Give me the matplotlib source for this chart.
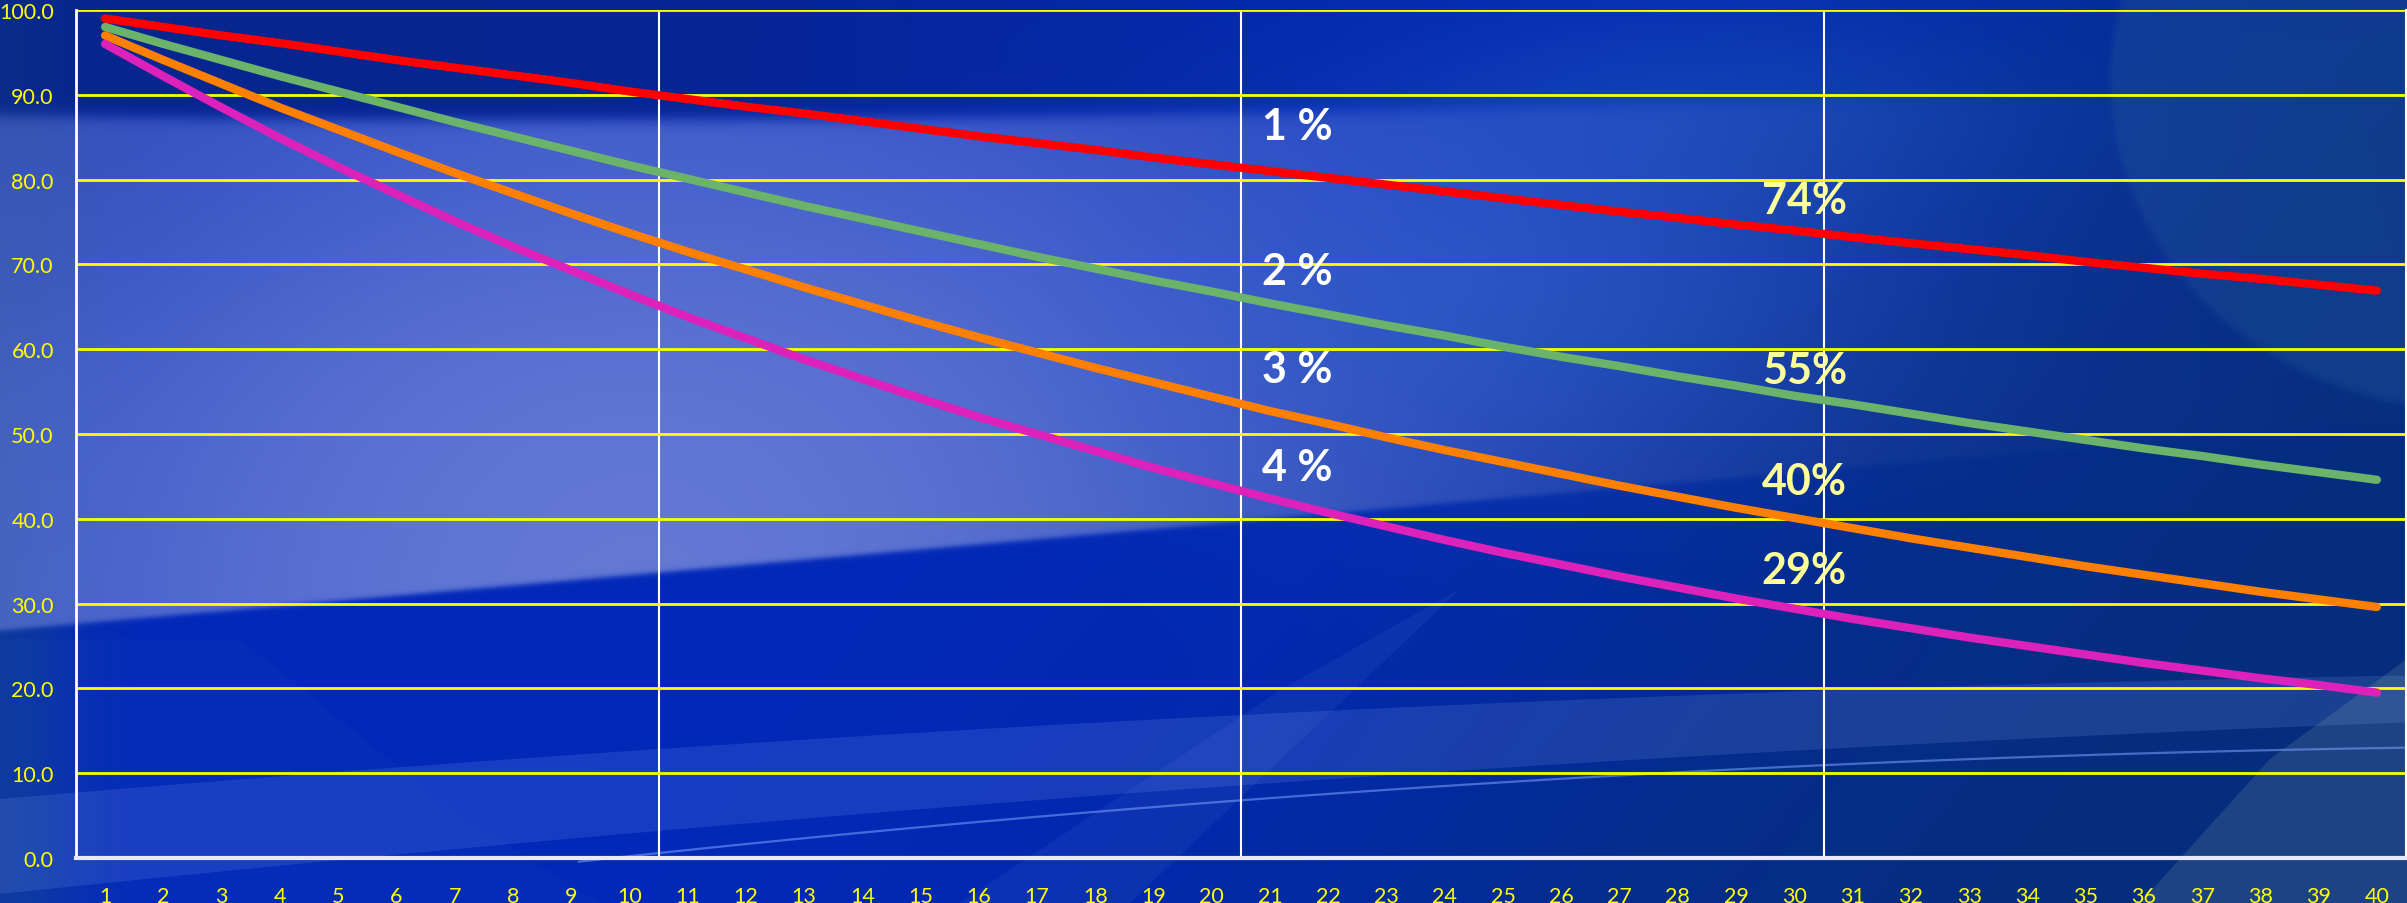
import numpy as np
import matplotlib
matplotlib.use("Agg")
import matplotlib.pyplot as plt
from matplotlib.patches import Polygon

# years 1..40 and the share of value left after yearly losses of 1-4 %
years = list(range(1, 41))
loss_1 = [99.0, 98.0, 97.0, 96.1, 95.1, 94.1, 93.2, 92.3, 91.4, 90.4,
          89.5, 88.6, 87.8, 86.9, 86.0, 85.1, 84.3, 83.5, 82.6, 81.8,
          81.0, 80.2, 79.4, 78.6, 77.8, 77.0, 76.2, 75.5, 74.7, 74.0,
          73.2, 72.5, 71.8, 71.1, 70.3, 69.6, 68.9, 68.3, 67.6, 66.9]
loss_2 = [98.0, 96.0, 94.1, 92.2, 90.4, 88.6, 86.8, 85.1, 83.4, 81.7,
          80.1, 78.5, 76.9, 75.4, 73.9, 72.4, 70.9, 69.5, 68.1, 66.8,
          65.4, 64.1, 62.8, 61.6, 60.3, 59.1, 58.0, 56.8, 55.7, 54.5,
          53.5, 52.4, 51.3, 50.3, 49.3, 48.3, 47.4, 46.4, 45.5, 44.6]
loss_3 = [97.0, 94.1, 91.3, 88.5, 85.9, 83.3, 80.8, 78.4, 76.0, 73.7,
          71.5, 69.4, 67.3, 65.3, 63.3, 61.4, 59.6, 57.8, 56.1, 54.4,
          52.7, 51.2, 49.6, 48.1, 46.7, 45.3, 43.9, 42.6, 41.3, 40.1,
          38.9, 37.7, 36.6, 35.5, 34.4, 33.4, 32.4, 31.4, 30.5, 29.6]
loss_4 = [96.0, 92.2, 88.5, 84.9, 81.5, 78.3, 75.1, 72.1, 69.3, 66.5,
          63.8, 61.3, 58.8, 56.5, 54.2, 52.0, 50.0, 48.0, 46.0, 44.2,
          42.4, 40.7, 39.1, 37.5, 36.0, 34.6, 33.2, 31.9, 30.6, 29.4,
          28.2, 27.1, 26.0, 25.0, 24.0, 23.0, 22.1, 21.2, 20.4, 19.5]
series = [loss_1, loss_2, loss_3, loss_4]
colors = ["#ff0000", "#6bb36b", "#ff8000", "#dd22bb"]
rate_labels = ["1 %", "2 %", "3 %", "4 %"]
left_labels = ["74%", "55%", "40%", "29%"]
y_ticks = [0, 10, 20, 30, 40, 50, 60, 70, 80, 90, 100]

W, H = 2407, 904
fig = plt.figure(figsize=(W / 100, H / 100), dpi=100)

# ---- background: blue gradient with soft light swooshes ----
yy, xx = np.mgrid[0:H, 0:W].astype(float)


def sig(d, w):
    return 1.0 / (1.0 + np.exp(-np.clip(d / w, -50, 50)))


def mix(img, col, a):
    col = np.array(col, float) / 255.0
    return img * (1 - a[..., None]) + col * a[..., None]


img = np.zeros((H, W, 3))
img[:] = np.array([2, 40, 185]) / 255.0
img = mix(img, (25, 85, 205), 0.55 * np.exp(-((xx - 1750) / 350.0) ** 2) * np.exp(-((yy - 110) / 110.0) ** 2))
img = mix(img, (15, 60, 150), 0.8 * np.exp(-(xx / 80.0) ** 2))

# light lavender wedge on the left, navy strip above it
y_bot = 631 - 0.088 * xx
y_top = 118 + 0.012 * xx - 0.000012 * xx ** 2
img = mix(img, (8, 36, 128), 0.75 * sig(y_top - yy, 5) * np.exp(-((xx - 300) / 900.0) ** 2))
m = sig(y_bot - yy, 1.5) * sig(yy - y_top, 4)
glow = np.exp(-((xx - 650) / 1000.0) ** 2) * (0.6 + 0.4 * sig(yy - 250, 90))
img = mix(img, (108, 128, 215), 0.93 * m * glow)
img = mix(img, (60, 85, 175), 0.4 * m * np.exp(-(xx / 250.0) ** 2) * sig(330 - yy, 60))
# bluer middle area to the right of the wedge
img = mix(img, (50, 100, 215), 0.55 * np.exp(-((xx - 1550) / 380.0) ** 2) * np.exp(-((yy - 300) / 170.0) ** 2))

# darker navy towards the lower right
dr = sig((xx - 1750) + (yy - 450) * 0.8, 220)
img = mix(img, (6, 48, 105), 0.75 * dr)

# big faint arc on the right
ell = ((xx - 2470) / 360.0) ** 2 + ((yy - 80) / 330.0) ** 2
img = mix(img, (35, 85, 155), 0.35 * sig(1 - ell, 0.01))

img = np.clip(img, 0, 1)
ax_bg = fig.add_axes([0, 0, 1, 1])
ax_bg.imshow(img, extent=(0, W, H, 0), aspect="auto", interpolation="bilinear")
ax_bg.set_xlim(0, W)
ax_bg.set_ylim(H, 0)
ax_bg.axis("off")

# lighter swoosh bands near the bottom
bx = np.linspace(0, W, 80)
band_top = 800 - 0.085 * bx + 0.000014 * bx ** 2
band_bot = band_top + 95 - 0.02 * bx
ax_bg.add_patch(Polygon(np.column_stack([np.r_[bx, bx[::-1]],
                                         np.r_[band_top, band_bot[::-1]]]),
                        closed=True, color="#9bb4ff", alpha=0.15, lw=0))
arc_y = 935 - 0.14 * bx + 0.000026 * bx ** 2
keep = bx > 560
ax_bg.plot(bx[keep], arc_y[keep], color="#7ea2ff", lw=1.6, alpha=0.55)
ax_bg.add_patch(Polygon([(960, 904), (1282, 690), (1460, 590), (1130, 904)],
                        closed=True, color="#9bb4ff", alpha=0.07, lw=0))
ax_bg.add_patch(Polygon([(240, 640), (450, 810), (600, 904), (0, 904), (0, 640)],
                        closed=True, color="#3d6fd0", alpha=0.06, lw=0))
ax_bg.add_patch(Polygon([(2140, 904), (2270, 760), (2407, 660), (2407, 904)],
                        closed=True, color="#b8d0b0", alpha=0.14, lw=0))

# ---- chart ----
x0, x1 = 76, 2406
yb, yt = 859, 11
ax = fig.add_axes([x0 / W, (H - yb) / H, (x1 - x0) / W, (yb - yt) / H])
ax.set_facecolor("none")

for vals, col in zip(series, colors):
    ax.plot(years, vals, color=col, lw=6, solid_capstyle="round", zorder=5)

ax.set_xlim(0.5, 40.5)
ax.set_ylim(0, 100)
ax.set_xticks(years)
ax.set_yticks(y_ticks)
ax.set_yticklabels([f"{v:.1f}" for v in y_ticks])
ax.set_xticks([10.5, 20.5, 30.5], minor=True)

font = ["Lato", "DejaVu Sans"]
ax.tick_params(axis="both", which="both", length=0, colors="#ffff00", labelsize=15.5)
ax.tick_params(axis="y", pad=16)
ax.tick_params(axis="x", pad=20)
for lbl in ax.get_xticklabels() + ax.get_yticklabels():
    lbl.set_family(font)

ax.grid(axis="y", which="major", color="#ffff00", lw=2, zorder=1)
ax.grid(axis="x", which="minor", color="white", lw=1.5, zorder=1)
ax.grid(axis="x", which="major", visible=False)

ax.spines["top"].set_visible(False)
ax.spines["left"].set_color("white")
ax.spines["left"].set_linewidth(2)
ax.spines["bottom"].set_color("#e8e8ff")
ax.spines["bottom"].set_linewidth(3)
ax.spines["right"].set_color("white")
ax.spines["right"].set_linewidth(1.5)

# loss rate labels and the share left after 30 years
rate_pos = [86.3, 69.2, 57.7, 46.1]
left_pos = [77.6, 57.5, 44.5, 34.0]
for txt, yv in zip(rate_labels, rate_pos):
    ax.text(20.86, yv, txt, color="white", fontsize=31, fontweight="bold",
            family=font, ha="left", va="center", zorder=6)
for txt, yv in zip(left_labels, left_pos):
    ax.text(29.44, yv, txt, color="#ffff99", fontsize=31, fontweight="bold",
            family=font, ha="left", va="center", zorder=6)

fig.savefig("out.png", dpi=100)
